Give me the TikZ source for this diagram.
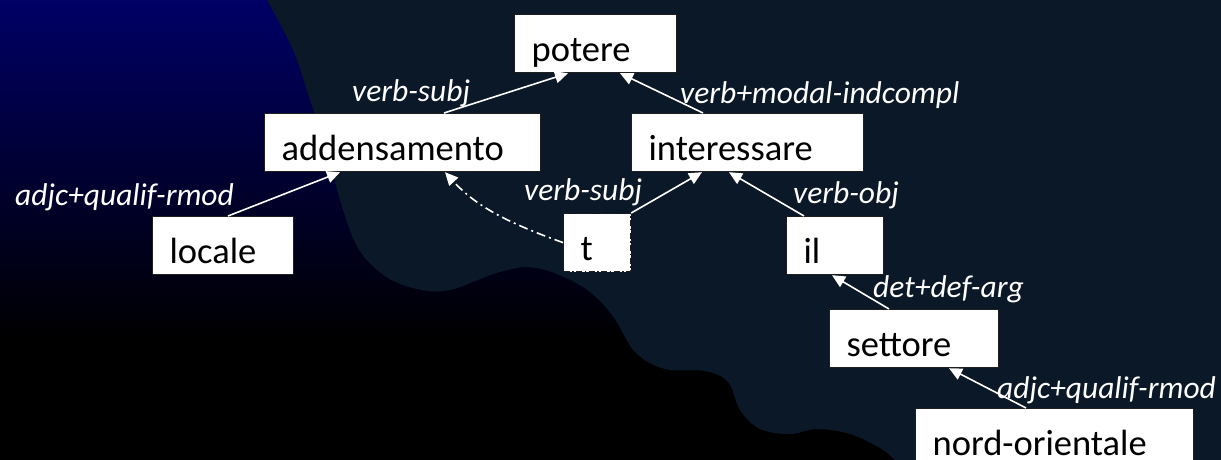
\documentclass[tikz,border=0pt]{standalone}
\usepackage{fontspec}
\setmainfont{Carlito}
\usetikzlibrary{arrows.meta}
\definecolor{slate}{RGB}{11,24,39}
\definecolor{navytop}{RGB}{0,0,102}
\definecolor{boxline}{RGB}{30,30,30}
\begin{document}
\begin{tikzpicture}[x=1pt,y=-1pt,
  wbox/.style={draw=boxline, line width=1.2pt, fill=white, anchor=north west,
    font=\fontsize{36.5}{40}\selectfont, minimum height=58pt, inner xsep=17pt,
    inner ysep=0pt, text height=36pt, text depth=0pt, align=left},
  tbox/.style={wbox, dash pattern=on 6pt off 2.5pt on 1.5pt off 2.5pt},
  lab/.style={font=\fontsize{31.5}{34}\selectfont\itshape, text=white,
    anchor=base west, inner sep=0pt},
  conn/.style={draw=white, line width=1.6pt, -{Triangle[length=13pt,width=12pt]}},
  dconn/.style={conn, dash pattern=on 9pt off 4pt on 2pt off 4pt}
]
\useasboundingbox (0,0) rectangle (1221,460);
\clip (0,0) rectangle (1221,460);
% background
\fill[black] (0,0) rectangle (1221,460);
\shade[top color=navytop, bottom color=black] (0,0) rectangle (700,340);
\fill[slate] plot[smooth, tension=0.6] coordinates {(267,0) (293,50) (310,100)
  (327,150) (340,200) (358,248) (385,276) (417,289) (450,290) (500,272)
  (537,268) (583,287) (612,315) (635,352) (665,369) (705,371) (728,382)
  (740,410) (760,429) (790,434) (817,429) (850,434) (880,448) (895,460)}
  -- (1221,460) -- (1221,0) -- cycle;

% nodes
\node[wbox, text width=128pt] (potere) at (514,14) {potere};
\node[wbox, text width=242pt] (addensamento) at (264,113) {addensamento};
\node[wbox, text width=198pt] (interessare) at (631,113) {interessare};
\node[wbox, text width=107pt] (locale) at (152,216) {locale};
\node[tbox, text width=33pt] (t) at (563,213) {t};
\node[wbox, text width=63pt] (il) at (786,216) {il};
\node[wbox, text width=135pt] (settore) at (829,309) {settore};
\node[wbox, text width=244pt] (nord) at (915,408) {nord-orientale};

% labels
\node[lab] (l1) at (15,205) {adjc+qualif-rmod};
\node[lab] (l2) at (352,102) {verb-subj};
\node[lab] (l3) at (680,103) {verb+modal-indcompl};
\node[lab] (l4) at (524,200) {verb-subj};
\node[lab] (l5) at (793,203) {verb-obj};
\node[lab] (l6) at (873,297) {det+def-arg};
\node[lab] (l7) at (997,398) {adjc+qualif-rmod};

% connectors
\draw[conn] ([xshift=76pt]locale.north west) -- ([xshift=76pt]addensamento.south west);
\draw[conn] ([xshift=180pt]addensamento.north west) -- ([xshift=54pt]potere.south west);
\draw[conn] ([xshift=72pt]interessare.north west) -- ([xshift=106pt]potere.south west);
\draw[conn] (t.north east) -- ([xshift=71pt]interessare.south west);
\draw[conn] ([xshift=18pt]il.north west) -- ([xshift=98pt]interessare.south west);
\draw[conn] ([xshift=60pt]settore.north west) -- ([xshift=46pt]il.south west);
\draw[conn] ([xshift=111pt]nord.north west) -- ([xshift=120pt]settore.south west);
\draw[dconn] (t.west) .. controls (505,222) and (475,205) .. ([xshift=181pt]addensamento.south west);
\end{tikzpicture}
\end{document}
